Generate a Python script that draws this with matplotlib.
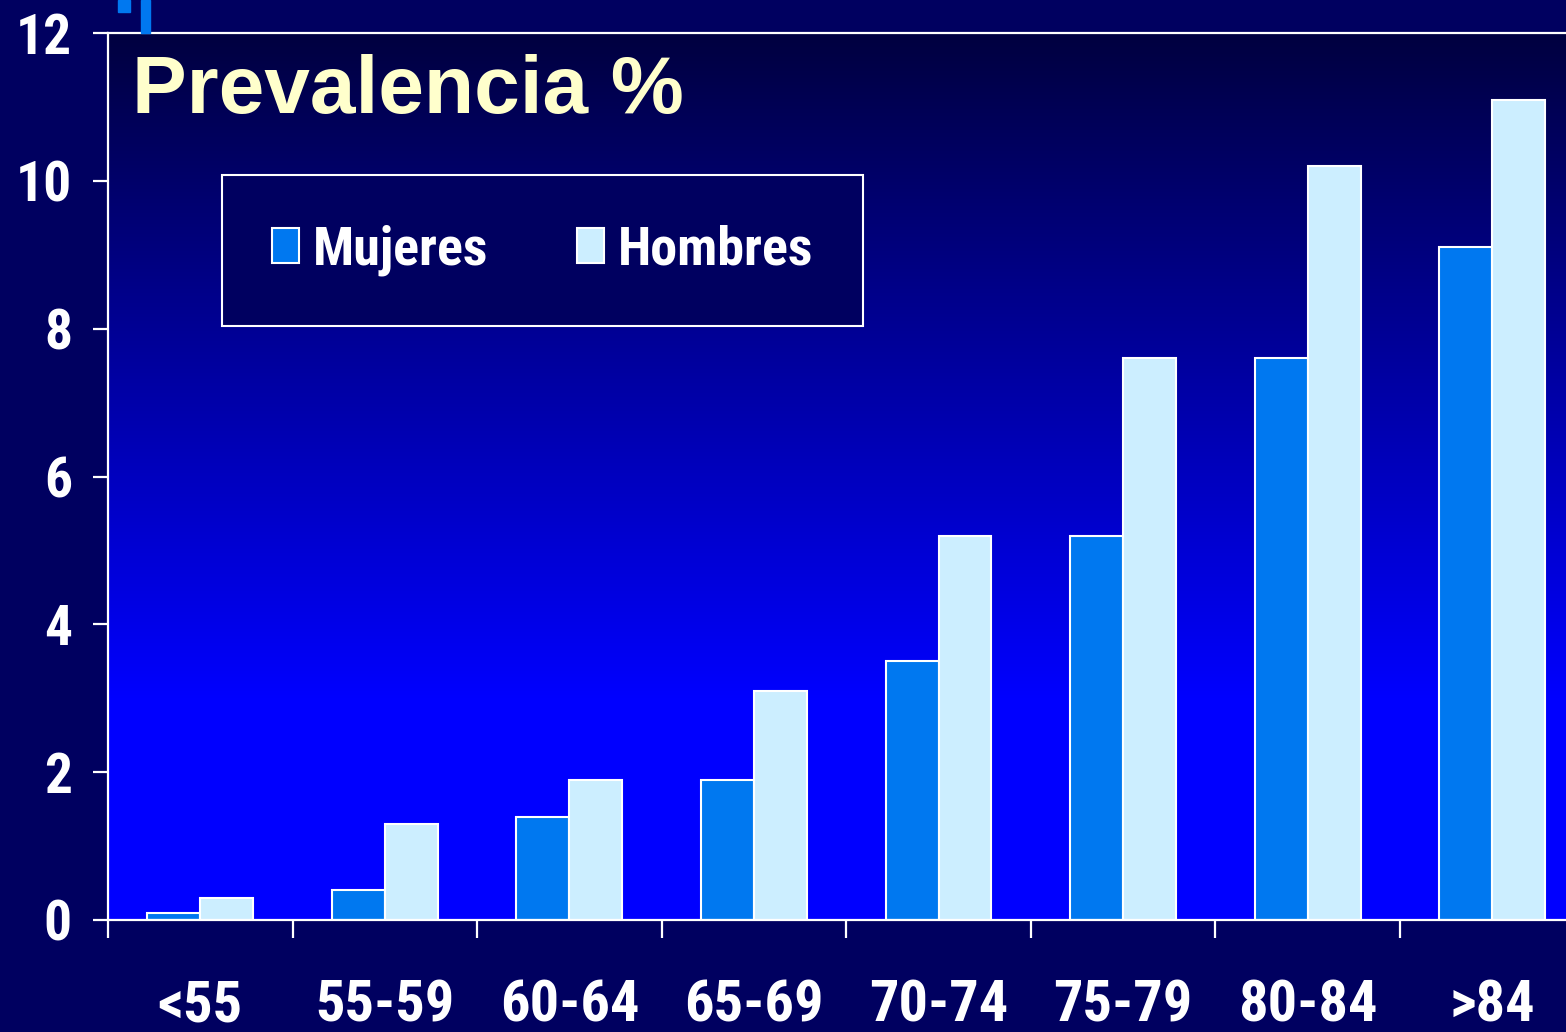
import matplotlib
matplotlib.use("Agg")
import matplotlib.pyplot as plt
import numpy as np
from matplotlib.patches import Rectangle

# data
grupos = ['<55', '55-59', '60-64', '65-69', '70-74', '75-79', '80-84', '>84']
mujeres = [0.1, 0.4, 1.4, 1.9, 3.5, 5.2, 7.6, 9.1]
hombres = [0.3, 1.3, 1.9, 3.1, 5.2, 7.6, 10.2, 11.1]
yticks = [0, 2, 4, 6, 8, 10, 12]

bg = '#000060'
c_muj = '#0078F0'
c_hom = '#CCEEFF'
narrow = ['Roboto Condensed', 'PT Sans Narrow', 'Liberation Sans', 'DejaVu Sans']

fig = plt.figure(figsize=(15.66, 10.32), dpi=100, facecolor=bg)
ax = fig.add_axes([108/1566, 1-920/1032, 1-108/1566, (920-33)/1032])
ax.set_facecolor(bg)

x = np.arange(len(grupos))
w = 0.287

# vertical gradient: dark navy on top, pure blue from ~3/4 down
t = np.linspace(0, 1, 256)
cols = np.zeros((256, 1, 3))
cols[:, 0, 2] = (64 + 191 * np.clip(t / 0.75, 0, 1)) / 255
ax.imshow(cols, extent=[-0.5, 7.4, 0, 12], aspect='auto', zorder=0, origin='upper')
ax.set_xlim(-0.5, 7.4)
ax.set_ylim(0, 12)

ax.bar(x - w/2, mujeres, w, color=c_muj, edgecolor='white', linewidth=1.5, label='Mujeres', zorder=2)
ax.bar(x + w/2, hombres, w, color=c_hom, edgecolor='white', linewidth=1.5, label='Hombres', zorder=2)

for s in ['left', 'top', 'bottom']:
    ax.spines[s].set_color('white')
    ax.spines[s].set_linewidth(1.6)
ax.spines['right'].set_visible(False)

ax.set_yticks(yticks)
ax.set_yticklabels([str(v) for v in yticks], family=narrow, fontweight='bold', fontsize=40, color='white')
ax.tick_params(axis='y', colors='white', length=11, width=1.6, pad=15)
ax.set_xticks(x)
ax.set_xticklabels(grupos, family=narrow, fontweight='bold', fontsize=42, color='white')
ax.set_xticks(np.arange(8) - 0.5, minor=True)
ax.tick_params(axis='x', which='major', length=0, pad=42)
ax.tick_params(axis='x', which='minor', colors='white', length=13, width=1.6)

fig.text(132/1566, 1-113/1032, 'Prevalencia %', fontsize=59, fontweight='bold',
         color='#FFFFCC', family=['Liberation Sans', 'DejaVu Sans'], va='baseline')

leg = ax.legend(loc='upper left', bbox_to_anchor=(222/1566, 1-175/1032),
                bbox_transform=fig.transFigure, ncol=2, frameon=True, fancybox=False,
                prop={'family': narrow, 'weight': 'bold', 'size': 39},
                handlelength=0.5, handleheight=0.62, handletextpad=0.25,
                columnspacing=1.65, borderpad=0.92, borderaxespad=0)
leg.get_frame().set_facecolor(bg)
leg.get_frame().set_edgecolor('white')
leg.get_frame().set_linewidth(1.5)
leg.get_frame().set_alpha(1)
for txt in leg.get_texts():
    txt.set_color('white')

# small slide decoration at top left
fig.patches.append(Rectangle((118/1566, 1-12/1032), 12/1566, 12/1032, transform=fig.transFigure,
                             color=c_muj, zorder=5))
fig.patches.append(Rectangle((141/1566, 1-33/1032), 9/1566, 33/1032, transform=fig.transFigure,
                             color=c_muj, zorder=5))

fig.savefig('out.png', dpi=100, facecolor=bg)
